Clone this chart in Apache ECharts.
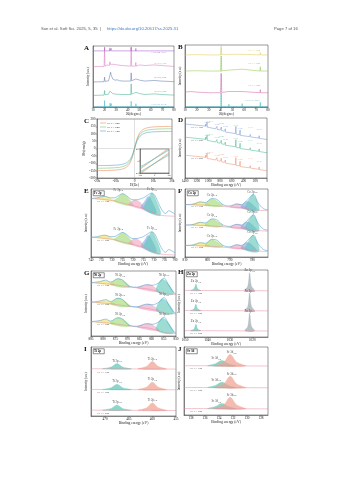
<!DOCTYPE html>
<html>
<head>
<meta charset="utf-8">
<script src="https://cdn.jsdelivr.net/npm/echarts@6/dist/echarts.min.js"></script>
<style>
  html, body { margin: 0; padding: 0; background: #fff; }
  #main { width: 353px; height: 480px; }
</style>
</head>
<body>
<div id="main"></div>
<script>
// ---------- A: XRD ----------
var xrdRefTop = [[20.0,6],[22.2,3],[24.6,5],[25.8,4],[27.6,3],[29.3,2],[31.0,3],[35.4,2],[43.0,6],[45.2,2],[47.0,4],[50.3,3],[55.1,2],[62.8,3],[69.0,2],[74.5,2]];
var xrdRefBottom = [[20.0,10],[24.8,6],[25.9,5],[31.1,3],[43.0,9],[47.1,5],[50.4,3],[56.0,2],[62.9,3],[69.1,2]];
var xrdPink = [[10,66],[15,66.5],[19.6,66.5],[20,96],[20.4,67],[22,67],[22.3,69],[22.6,67],[24.2,68],[24.6,74],[25,70],[25.8,73],[26.3,68],[27.6,70],[28,67.5],[31,69],[31.4,67],[35.4,68],[35.8,67],[42.6,67],[43,98],[43.4,67],[46.6,67],[47,73],[47.4,67],[50.3,69],[50.7,66.5],[55.1,68],[55.5,66.5],[62.8,69],[63.2,66.5],[69,68],[69.4,66.5],[80,66.5]];
var xrdBlue = [[10,41],[19.6,41.5],[20,49],[20.4,42],[23.5,43],[24.6,52],[25.2,57],[25.8,52],[27,46],[29,44],[31,44.5],[33,43],[36,42.5],[42.6,42.5],[43,56],[43.4,43],[47,46],[48,43],[50.3,44],[55,42.5],[62.8,43.5],[69,42.5],[80,41.5]];
var xrdGreen = [[10,19],[19.6,19.5],[20,27],[20.4,20],[23.5,21],[24.6,26],[25.2,29],[25.8,26],[27,22],[30,21],[36,20.5],[42.6,20.5],[43,38],[43.4,21],[47,24],[48,21],[50.3,22],[55,20.5],[62.8,21.5],[69,20.5],[80,19.5]];
var xrdLabelsA = [[78,90,'PDF#84-1531','#9b4fc9'],[78,72,'SrTiO\u2083-700','#d770b9'],[78,48,'SrTiO\u2083-600','#5a6fa8'],[78,26,'SrTiO\u2083-500','#3aa88a'],[78,5,'PDF#35-0734','#3ab8c8']];

// ---------- B: XRD ----------
var xrdYellowB = [[10,84],[20,84.5],[30,84],[40,84],[40.5,97],[41,84.5],[47,85],[47.4,84],[58,85],[58.4,84],[73.2,84],[73.5,88],[73.8,84],[80,84]];
var xrdGreenB = [[10,58],[20,58.5],[30,58],[40,58],[40.5,82],[41,58.5],[47,59.5],[47.4,58],[58,61],[58.4,58],[73.2,58],[73.5,65],[73.8,58],[80,58]];
var xrdPinkB = [[10,24],[15,25],[20,24],[30,23],[40,23],[40.5,54],[41,23.5],[47,25],[47.4,23],[58,25],[58.4,23],[73.2,23],[73.5,28],[73.8,23],[80,23]];
var xrdRefB = [[40.5,22],[47,4],[58.2,5],[73.5,7]];
var xrdLabelsB = [[78,92,'ST-TA-700','#c9b23a'],[78,71,'ST-TA-600','#7db33a'],[78,35,'ST-TA-500','#d45aa6'],[78,10,'PDF#73-0661','#36b5c5']];

// ---------- C: M-H loops ----------
var fieldC = [-20000,-15000,-10000,-7000,-5000,-3500,-2500,-1500,-800,0,800,1500,2500,3500,5000,7000,10000,15000,20000];
var mOrange = [-150,-149,-146,-141,-132,-118,-100,-72,-42,0,42,72,100,118,132,141,146,149,150];
var mGreen = [-134,-133,-130,-125,-117,-104,-88,-63,-37,0,37,63,88,104,117,125,130,133,134];
var mTeal = [-116,-115,-113,-109,-101,-90,-76,-55,-32,0,32,55,76,90,101,109,113,115,116];
var insetH = [-300,300];
var insetOrange = [[-14,6],[-6,14]];
var insetGreen = [[-12,4],[-4,12]];
var insetTeal = [[-10,2],[-2,10]];
var legendC = ['ST-TA-500','ST-TA-600','ST-TA-700'];

// ---------- D: XPS survey ----------
var surveyD = [[1400,26],[1300,25],[1200,24],[1100,23],[1050,22.5],[1046,26],[1042,22],[1025,21.5],[1022,29],[1018,20.5],[980,20],[975,22],[965,19.5],[880,18],[874,21],[869,17.5],[860,17.5],[855,22],[850,17],[800,16],[796,18.5],[786,16.5],[780,21],[775,15],[728,14],[724,17],[718,13.5],[711,18],[706,12.5],[600,11],[540,10],[531,22],[526,9],[470,8],[464,10.5],[459,16],[454,7],[300,5],[285,8.5],[280,4.5],[140,2.5],[134,6.5],[130,2],[90,1.5],[0,0]];
var surveyOffsets = [64, 42, 12];
var surveyColors = ['#6f8fd0','#3cb58b','#e9896a'];
var surveyNames = ['ST-TA-700','ST-TA-600','ST-TA-500'];
var surveyPeaks = [[1022,'Zn 2p'],[976,'O KLL'],[855,'Ni 2p'],[780,'Co 2p'],[711,'Fe 2p'],[531,'O 1s'],[459,'Ti 2p'],[285,'C 1s'],[134,'Sr 3d']];

// ---------- E: Fe 2p ----------
var bgE = [[740,26],[735,25],[730,23],[726,20],[722,17],[718,14],[714,10],[711,6],[708,2],[704,0.5],[700,0]];
var rawE = [[740,26],[737,27],[735,28.5],[733,29],[731,27],[729,27],[727,30],[725,33],[723,30],[721,25],[719,24],[717,25],[715,27],[713,31],[711,34],[709.5,30],[708,20],[706,8],[704.5,4],[703,8],[701.5,6],[700,3]];
var compsE = [
  {c:'#f2df5e', p:[[738,25.5],[735,28],[733,29],[731,26.5],[728,22]]},
  {c:'#9fd86f', p:[[729,22],[727,28],[725,33],[723,29],[720,15.5]]},
  {c:'#f0a0c0', p:[[722,17],[720,23],[718.5,24],[716.5,20],[714.5,10.5]]},
  {c:'#7fa7e0', p:[[716,12],[714,24],[712.8,29],[711.5,25],[709,4]]},
  {c:'#5cc5b5', p:[[714.5,11],[712.5,27],[711,34],[709.5,27],[707,1.5]]}
];
var offsetsE = [60, 3];
var namesE = ['ST-TA-700','ST-TA-500'];

// ---------- F: Co 2p ----------
var bgF = [[810,9],[800,8],[795,7],[790,5.5],[785,4.5],[781,2.5],[778,1],[773,0]];
var rawF = [[810,9],[806,10],[803,13],[801,12],[798,18],[796,17],[793,9],[790,7],[787,10],[785,9],[783,13],[781,20],[779.5,24],[777.5,12],[775,3],[773,1.5]];
var compsF = [
  {c:'#f2df5e', p:[[807,9],[804,13],[802,12.5],[799,8]]},
  {c:'#9fd86f', p:[[801,8],[798.5,17],[796.5,16],[793,7]]},
  {c:'#f0a0c0', p:[[790,5.5],[787,10],[785,9],[782,3]]},
  {c:'#7fa7e0', p:[[785,4.5],[783,13],[781,12],[778,1]]},
  {c:'#5cc5b5', p:[[783,3],[781,19],[779.5,24],[777,0.5]]}
];
var offsetsF = [68, 38, 8];
var namesF = ['ST-TA-700','ST-TA-600','ST-TA-500'];

// ---------- G: Ni 2p ----------
var bgG = [[885,18],[878,16],[872,13],[866,10],[861,8],[857,4],[854,1],[850,0]];
var rawG = [[885,18],[881,20],[879,22],[877,19],[874,24],[872,22],[869,12],[866,11],[862,15],[860,14],[857,18],[855,25],[853,14],[851,3],[850,1]];
var compsG = [
  {c:'#f2df5e', p:[[883,17],[880,21],[878,20],[875,15]]},
  {c:'#9fd86f', p:[[877,15],[874,24],[872,22],[869,11]]},
  {c:'#f0a0c0', p:[[866,10],[862,15],[860,14],[857,4]]},
  {c:'#5cc5b5', p:[[858,5],[856,23],[854,20],[851,0.5]]}
];
var offsetsG = [64, 34, 4];
var namesG = ['ST-TA-700','ST-TA-600','ST-TA-500'];

// ---------- H: Zn 2p ----------
var bgH = [[1050,0.5],[1013,0]];
var peaksH = [
  {c:'#5cc5b5', p:[[1047.5,0.4],[1046,3],[1045.2,10],[1044.4,3],[1043,0.3]]},
  {c:'#9aa9b0', p:[[1023.3,0.2],[1022,7],[1021.2,27],[1020.4,7],[1019,0]]}
];
var offsetsH = [69, 39, 9];
var namesH = ['ST-TA-700','ST-TA-600','ST-TA-500'];

// ---------- I: Ti 2p ----------
var bgI = [[473,0.5],[455,0]];
var peaksI = [
  {c:'#5cc5b5', p:[[470.5,0.4],[468.7,3],[467.5,8],[466.3,3],[464.5,0.2]]},
  {c:'#f0a090', p:[[463,0.2],[461.2,4],[460,11],[458.8,4],[457,0]]}
];
var offsetsI = [68, 38, 8];
var namesI = ['ST-TA-700','ST-TA-600','ST-TA-500'];

// ---------- J: Sr 3d ----------
var bgJ = [[139,0.5],[127,0]];
var peaksJ = [
  {c:'#5cc5b5', p:[[135.6,0.4],[134.5,3.5],[133.6,8],[132.7,3.5],[131.6,0.2]]},
  {c:'#f0a090', p:[[134.6,0.4],[133.3,6],[132.4,17],[131.5,6],[130.2,0]]}
];
var offsetsJ = [72, 40, 9];
var namesJ = ['ST-TA-700','ST-TA-600','ST-TA-500'];

// ---------- layout ----------
var boxes = [
  {l:93, t:46, w:81, h:61},   // A
  {l:185, t:45, w:83, h:62},  // B
  {l:97, t:119, w:75, h:59},  // C
  {l:185, t:118, w:82, h:60}, // D
  {l:91, t:189, w:84, h:68},  // E
  {l:185, t:189, w:83, h:68}, // F
  {l:91, t:271, w:85, h:65},  // G
  {l:184, t:270, w:84, h:67}, // H
  {l:91, t:347, w:85, h:69},  // I
  {l:184, t:347, w:84, h:68}, // J
  {l:140, t:149, w:29, h:24}  // C inset
];
var letters = ['A','B','C','D','E','F','G','H','I','J'];
var tags = [null,null,null,null,'Fe 2p','Co 2p','Ni 2p','Zn 2p','Ti 2p','Sr 3d'];

var serif = 'Liberation Serif';
var axisColor = '#333';

var grids = [], xAxes = [], yAxes = [], series = [], graphics = [];

boxes.forEach(function (b) {
  grids.push({left: b.l, top: b.t, width: b.w, height: b.h, show: true, borderColor: axisColor, borderWidth: 0.5, backgroundColor: '#fff'});
});

function plain(v) { return String(v); }

function xAx(gi, o) {
  var ax = {
    gridIndex: gi, type: 'value', min: o.min, max: o.max, inverse: !!o.inverse,
    interval: o.interval,
    name: o.name, nameLocation: 'middle', nameGap: o.nameGap || 5,
    nameTextStyle: {fontSize: 3.6, fontFamily: serif, color: '#222'},
    axisLine: {show: true, onZero: false, lineStyle: {color: axisColor, width: 0.5}},
    axisTick: {show: true, length: 1.4, lineStyle: {width: 0.4, color: axisColor}},
    axisLabel: {fontSize: 3.4, margin: 1.5, color: '#222', fontFamily: serif, formatter: o.formatter || plain},
    splitLine: {show: false}
  };
  if (o.custom) {
    ax.axisLabel.customValues = o.custom;
    ax.axisTick.customValues = o.custom;
  }
  xAxes[gi] = ax;
}
function yAx(gi, o) {
  yAxes[gi] = {
    gridIndex: gi, type: 'value', min: o.min, max: o.max, interval: o.interval,
    name: o.name, nameLocation: 'middle', nameGap: o.nameGap || 3, nameRotate: 90,
    nameTextStyle: {fontSize: 3.2, fontFamily: serif, color: '#222'},
    axisLine: {show: true, onZero: false, lineStyle: {color: axisColor, width: 0.5}},
    axisTick: {show: !!o.labels, length: 1.4, lineStyle: {width: 0.4}},
    axisLabel: {show: !!o.labels, fontSize: o.labelSize || 3.4, margin: 1.5, color: '#222', fontFamily: serif},
    splitLine: {show: false}
  };
}

function line(gi, data, color, w, extra) {
  var s = {type: 'line', xAxisIndex: gi, yAxisIndex: gi, data: data, symbol: 'none', silent: true,
    lineStyle: {color: color, width: w || 0.5}, animation: false};
  for (var k in extra) s[k] = extra[k];
  series.push(s);
}
function shift(pts, off) {
  return pts.map(function (p) { return [p[0], p[1] + off]; });
}
function sticks(list, base, x0, x1) {
  var out = [[x0, base]];
  list.forEach(function (p) { out.push([p[0], base], [p[0], base + p[1]], [p[0], base]); });
  out.push([x1, base]);
  return out;
}
function labels(gi, items, size) {
  series.push({
    type: 'scatter', xAxisIndex: gi, yAxisIndex: gi, symbolSize: 1, silent: true, animation: false,
    itemStyle: {color: 'rgba(0,0,0,0)'},
    data: items.map(function (it) {
      return {value: [it[0], it[1]], label: {color: it[3] || '#222', position: it[4] || 'inside'}, name: it[2]};
    }),
    label: {show: true, formatter: function (p) { return p.name; }, fontSize: size || 3.2, fontFamily: serif,
      rich: {s: {fontSize: 2.4, verticalAlign: 'bottom', fontFamily: serif}}}
  });
}
function comps(gi, list, off, alpha) {
  series.push({
    type: 'custom', xAxisIndex: gi, yAxisIndex: gi, silent: true, animation: false, clip: true,
    data: list.map(function (c, i) { return [c.p[0][0], c.p[0][1] + off, i]; }),
    renderItem: function (params, api) {
      var c = list[params.dataIndex];
      return {
        type: 'polygon',
        shape: {points: c.p.map(function (q) { return api.coord([q[0], q[1] + off]); }), smooth: 0.35},
        style: {fill: c.c, opacity: alpha || 0.6, stroke: c.c, lineWidth: 0.4}
      };
    }
  });
}

// ---- A
xAx(0, {min: 10, max: 80, interval: 10, name: '2\u03b8(degree)', nameGap: 5});
yAx(0, {min: 0, max: 100, name: 'Intensity (a.u.)'});
line(0, sticks(xrdRefTop, 92, 10, 80), '#9b4fc9', 0.5);
line(0, xrdPink, '#d770b9', 0.5);
line(0, xrdBlue, '#5a6fa8', 0.5);
line(0, xrdGreen, '#3aa88a', 0.5);
line(0, sticks(xrdRefBottom, 0.5, 10, 80), '#3ab8c8', 0.5);
labels(0, xrdLabelsA.map(function (d) { return [d[0], d[1], d[2], d[3], 'left']; }), 2.6);

// ---- B
xAx(1, {min: 10, max: 80, interval: 10, name: '2\u03b8(degree)', nameGap: 5});
yAx(1, {min: 0, max: 100, name: 'Intensity (a.u.)'});
line(1, [[40.5, 0], [40.5, 100]], '#36b5c5', 0.4, {lineStyle: {color: '#36b5c5', width: 0.4, type: [1.5, 1]}});
line(1, xrdYellowB, '#e0c94a', 0.5);
line(1, xrdGreenB, '#8cc63f', 0.5);
line(1, xrdPinkB, '#d45aa6', 0.5);
line(1, sticks(xrdRefB, 0.5, 10, 80), '#36b5c5', 0.5);
labels(1, xrdLabelsB.map(function (d) { return [d[0], d[1], d[2], d[3], 'left']; }), 2.6);

// ---- C
xAx(2, {min: -20000, max: 20000, interval: 10000, name: 'H(Oe)', nameGap: 5,
  formatter: function (v) { return v === 0 ? '0' : (v / 1000) + 'k'; }});
yAx(2, {min: -200, max: 200, interval: 50, name: 'Ms(emu/g)', labels: true, nameGap: 7});
line(2, [[-20000, 0], [20000, 0]], '#999', 0.3);
line(2, [[0, -200], [0, 200]], '#999', 0.3);
[mOrange, mGreen, mTeal].forEach(function (m, k) {
  var col = ['#f08c5a', '#7cc47a', '#5aa9c8'][k];
  line(2, fieldC.map(function (h, i) { return [h, m[i]]; }), col, 0.6, {smooth: 0.3});
});

// ---- D
xAx(3, {min: 0, max: 1400, interval: 200, inverse: true, name: 'Binding energy (eV)', nameGap: 5});
yAx(3, {min: 0, max: 100, name: 'Intensity (a.u.)'});
surveyOffsets.forEach(function (off, k) {
  line(3, shift(surveyD, off), surveyColors[k], 0.5);
  labels(3, [[1390, off + 21, surveyNames[k], '#222', 'right']], 2.6);
  labels(3, surveyPeaks.map(function (p, j) {
    return [p[0], off + 29 - j * 1.6 + (j % 2) * 3, p[1], surveyColors[k]];
  }), 2.2);
});

// ---- spectra panels
function spectra(gi, o) {
  xAx(gi, {min: o.min, max: o.max, interval: o.interval, custom: o.custom, inverse: true, name: 'Binding energy (eV)', nameGap: 5});
  yAx(gi, {min: 0, max: 100, name: 'Intensity (a.u.)'});
  o.offsets.forEach(function (off, k) {
    comps(gi, o.comps, off, o.alpha);
    line(gi, shift(o.bg, off), '#e48a9c', 0.5, {smooth: 0.4});
    if (o.raw) line(gi, shift(o.raw, off), '#4a9fd0', 0.55, {smooth: 0.4});
    labels(gi, [[o.max - (o.max - o.min) * 0.01, off + o.nameY, o.names[k], '#222', 'right']], 2.6);
    labels(gi, o.tags.map(function (t) { return [t[0], off + t[1], t[2], '#222']; }), 3);
  });
}
spectra(4, {min: 700, max: 740, interval: 5, offsets: offsetsE, bg: bgE, raw: rawE, comps: compsE, names: namesE, nameY: 22,
  tags: [[727, 38, 'Fe 2p{s|1/2}'], [711, 39, 'Fe 2p{s|3/2}']]});
spectra(5, {min: 773, max: 810, custom: [780, 790, 800, 810], offsets: offsetsF, bg: bgF, raw: rawF, comps: compsF, names: namesF, nameY: 6,
  tags: [[798, 23, 'Co 2p{s|1/2}'], [780, 28, 'Co 2p{s|3/2}']]});
spectra(6, {min: 850, max: 885, interval: 5, offsets: offsetsG, bg: bgG, raw: rawG, comps: compsG, names: namesG, nameY: 14,
  tags: [[873, 29, 'Ni 2p{s|1/2}'], [855, 30, 'Ni 2p{s|3/2}']]});
spectra(7, {min: 1013, max: 1050.5, custom: [1020, 1030, 1040, 1050], offsets: offsetsH, bg: bgH, comps: peaksH, names: namesH, nameY: -4, alpha: 0.7,
  tags: [[1045.2, 14, 'Zn 2p{s|1/2}'], [1021.2, 30, 'Zn 2p{s|3/2}']]});
spectra(8, {min: 455, max: 473, custom: [455, 460, 465, 470], offsets: offsetsI, bg: bgI, comps: peaksI, names: namesI, nameY: -4, alpha: 0.7,
  tags: [[467.5, 12, 'Ti 2p{s|1/2}'], [460, 15, 'Ti 2p{s|3/2}']]});
spectra(9, {min: 127, max: 139, custom: [128, 130, 132, 134, 136, 138], offsets: offsetsJ, bg: bgJ, comps: peaksJ, names: namesJ, nameY: -4, alpha: 0.7,
  tags: [[134.4, 11, 'Sr 3d{s|3/2}'], [132.2, 20, 'Sr 3d{s|5/2}']]});

// ---- C inset (grid 10)
xAx(10, {min: -300, max: 300, interval: 300, nameGap: 3});
xAxes[10].axisLabel.fontSize = 2.4;
yAx(10, {min: -20, max: 20, interval: 20, labels: true, labelSize: 2.4});
[insetOrange, insetGreen, insetTeal].forEach(function (br, k) {
  var col = ['#f08c5a', '#7cc47a', '#5aa9c8'][k];
  line(10, [[insetH[0], br[0][0]], [insetH[1], br[0][1] + 16]], col, 0.5);
  line(10, [[insetH[0], br[1][0] - 16], [insetH[1], br[1][1]]], col, 0.5);
});

// ---- page text, letters, tags
graphics.push({type: 'text', left: 41, top: 27, style: {text: 'Sun et al. Soft Sci. 2025, 5, 35  |  ', fontSize: 4.2, fill: '#555', fontFamily: 'Liberation Sans'}});
graphics.push({type: 'text', left: 107, top: 27, style: {text: 'https://dx.doi.org/10.20517/ss.2025.31', fontSize: 4.2, fill: '#3a78c2', fontFamily: 'Liberation Sans'}});
graphics.push({type: 'text', left: 274, top: 27, style: {text: 'Page 7 of 16', fontSize: 4.2, fill: '#555', fontFamily: 'Liberation Sans'}});
letters.forEach(function (L, i) {
  var b = boxes[i];
  graphics.push({type: 'text', left: (i % 2 === 0 ? 84 : 178), top: b.t - 1, style: {text: L, fontSize: 7, fontWeight: 'bold', fill: '#111', fontFamily: serif}});
  if (tags[i]) {
    graphics.push({type: 'rect', left: b.l + 2, top: b.t + 1.5, shape: {width: 11, height: 5}, style: {fill: '#fff', stroke: '#222', lineWidth: 0.5}});
    graphics.push({type: 'text', left: b.l + 3, top: b.t + 2.3, style: {text: tags[i], fontSize: 3.2, fontWeight: 'bold', fill: '#111', fontFamily: serif}});
  }
});

// C legend
legendC.forEach(function (n, k) {
  var col = ['#f08c5a', '#7cc47a', '#5aa9c8'][k];
  graphics.push({type: 'line', shape: {x1: 100, y1: 123 + k * 4, x2: 106, y2: 123 + k * 4}, style: {stroke: col, lineWidth: 0.6}});
  graphics.push({type: 'text', left: 107, top: 121.5 + k * 4, style: {text: n, fontSize: 2.8, fill: '#222', fontFamily: serif}});
});

var chart = echarts.init(document.getElementById('main'));
chart.setOption({
  animation: false,
  grid: grids,
  xAxis: xAxes,
  yAxis: yAxes,
  series: series,
  graphic: graphics
});
</script>
</body>
</html>
